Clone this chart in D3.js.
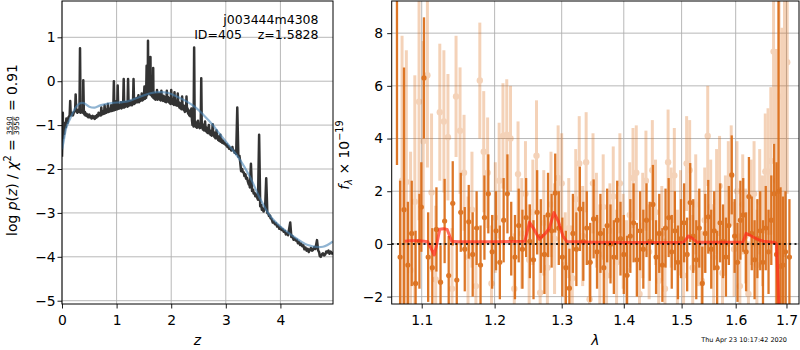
<!DOCTYPE html>
<html>
<head>
<meta charset="utf-8">
<script src="https://cdn.jsdelivr.net/npm/d3@7"></script>
<style>
  body { margin: 0; background: #fff; }
  svg { display: block; font-family: 'DejaVu Sans', sans-serif; }
</style>
</head>
<body>
<svg id="fig"></svg>
<script>
// ---- dados: painel esquerdo, log p(z) ----
const zTicks = [0, 1, 2, 3, 4];
const pzTicks = [-5, -4, -3, -2, -1, 0, 1];

// curva escura [z, log p]
const pzLine = [
  [0.00,-1.72],[0.01,-1.20],[0.015,-0.72],[0.02,-1.30],[0.03,-1.00],[0.04,-1.20],[0.05,-0.95],
  [0.07,-1.05],[0.08,-0.85],[0.10,-0.95],[0.12,-0.82],[0.14,-0.78],[0.15,-0.45],[0.16,-0.78],
  [0.18,-0.72],[0.20,-0.78],[0.22,-0.70],[0.24,-0.68],[0.25,-0.30],[0.26,-0.66],[0.28,-0.72],
  [0.30,-0.65],[0.32,-0.70],[0.33,0.75],[0.34,-0.72],[0.36,-0.68],[0.385,-0.72],[0.39,0.02],
  [0.40,-0.70],[0.41,-0.76],[0.42,-0.70],[0.43,-0.78],[0.45,-0.74],[0.46,-0.80],[0.47,-0.76],
  [0.48,-0.82],[0.50,-0.76],[0.51,-0.82],[0.53,-0.80],[0.54,-0.85],[0.56,-0.79],[0.57,-0.84],
  [0.58,-0.80],[0.60,-0.86],[0.61,-0.80],[0.63,-0.83],[0.64,-0.77],[0.66,-0.80],[0.67,-0.72],
  [0.68,-0.78],[0.70,-0.74],[0.71,-0.78],[0.72,-0.60],[0.73,-0.76],[0.74,-0.70],[0.75,-0.75],
  [0.76,-0.68],[0.77,-0.74],[0.78,-0.55],[0.79,-0.73],[0.80,-0.66],[0.81,-0.72],[0.82,-0.64],
  [0.83,-0.70],[0.84,-0.52],[0.85,-0.70],[0.86,-0.62],[0.87,-0.69],[0.88,-0.63],[0.89,-0.68],
  [0.90,-0.55],[0.91,-0.68],[0.92,-0.60],[0.93,-0.67],[0.94,-0.62],[0.95,0.00],[0.96,-0.66],
  [0.97,-0.58],[0.98,-0.65],[0.99,-0.58],[1.00,-0.45],[1.01,-0.64],[1.02,-0.10],[1.03,-0.63],
  [1.04,-0.55],[1.05,-0.62],[1.06,-0.54],[1.07,-0.61],[1.08,-0.48],[1.09,-0.62],[1.10,-0.54],
  [1.11,-0.60],[1.12,-0.52],[1.13,0.05],[1.14,-0.60],[1.15,-0.50],[1.16,-0.58],[1.17,-0.48],
  [1.18,-0.57],[1.19,-0.50],[1.20,-0.58],[1.21,0.05],[1.22,-0.56],[1.23,-0.47],[1.24,-0.55],
  [1.25,-0.45],[1.26,-0.54],[1.27,-0.46],[1.28,-0.55],[1.29,-0.44],[1.30,-0.52],[1.31,0.05],
  [1.32,-0.52],[1.33,-0.42],[1.34,-0.50],[1.35,-0.40],[1.36,-0.48],[1.37,-0.38],[1.38,-0.48],
  [1.39,-0.40],[1.40,-0.32],[1.41,-0.48],[1.42,-0.38],[1.43,-0.45],[1.44,-0.36],[1.45,-0.44],
  [1.46,-0.28],[1.47,-0.44],[1.48,-0.34],[1.49,-0.42],[1.50,-0.35],[1.51,-0.12],[1.52,-0.40],
  [1.53,-0.30],[1.54,-0.38],[1.55,0.35],[1.56,-0.32],[1.565,0.10],[1.57,-0.28],[1.575,0.92],
  [1.58,-0.20],[1.585,-0.05],[1.59,-0.28],[1.60,0.30],[1.605,-0.25],[1.61,0.00],[1.615,-0.30],
  [1.62,0.55],[1.625,-0.28],[1.63,-0.05],[1.635,-0.32],[1.645,0.10],[1.65,-0.35],[1.66,-0.15],
  [1.665,-0.35],[1.67,0.30],[1.675,-0.38],[1.68,-0.25],[1.69,-0.40],[1.70,-0.30],[1.71,-0.42],
  [1.72,-0.28],[1.73,-0.40],[1.74,-0.20],[1.75,-0.42],[1.76,-0.30],[1.77,-0.40],[1.78,-0.28],
  [1.79,-0.42],[1.80,-0.32],[1.81,-0.44],[1.82,-0.22],[1.83,-0.42],[1.84,-0.34],[1.85,-0.45],
  [1.86,-0.33],[1.87,-0.44],[1.88,-0.36],[1.89,-0.47],[1.90,-0.38],[1.91,-0.48],[1.92,-0.22],
  [1.93,-0.45],[1.94,-0.36],[1.95,-0.47],[1.96,-0.38],[1.97,-0.50],[1.98,-0.42],[1.99,-0.52],
  [2.00,-0.20],[2.01,-0.48],[2.02,-0.40],[2.03,-0.52],[2.04,-0.44],[2.05,-0.54],[2.06,-0.25],
  [2.07,-0.52],[2.08,-0.44],[2.09,-0.55],[2.10,-0.46],[2.11,-0.56],[2.12,-0.28],[2.13,-0.55],
  [2.14,-0.48],[2.15,-0.60],[2.16,-0.50],[2.17,-0.62],[2.18,-0.52],[2.19,-0.64],[2.20,-0.35],
  [2.21,-0.62],[2.22,-0.55],[2.23,-0.66],[2.24,-0.58],[2.25,-0.70],[2.26,-0.56],[2.27,-0.68],
  [2.28,-0.35],[2.29,-0.68],[2.30,-0.62],[2.31,-0.74],[2.32,-0.66],[2.33,-0.78],[2.34,-0.70],
  [2.35,-0.80],[2.36,-0.72],[2.37,-0.62],[2.38,-0.88],[2.39,-1.00],[2.40,-0.96],[2.41,-1.03],
  [2.42,0.77],[2.43,-1.00],[2.44,-0.92],[2.45,-1.04],[2.46,-0.96],[2.47,-1.06],[2.48,-0.98],
  [2.49,-0.90],[2.50,-1.04],[2.51,-0.97],[2.52,-1.07],[2.53,-0.99],[2.54,-1.06],[2.55,0.07],
  [2.56,-1.05],[2.57,-0.98],[2.58,-1.10],[2.59,-1.02],[2.60,-1.12],[2.61,-1.04],[2.62,-0.92],
  [2.63,-1.13],[2.64,-1.05],[2.65,-1.16],[2.66,-1.08],[2.67,-1.18],[2.68,-1.10],[2.69,-1.00],
  [2.70,-1.19],[2.71,-1.12],[2.72,-1.22],[2.73,-1.14],[2.74,-1.24],[2.75,-1.16],[2.76,-0.98],
  [2.77,-1.23],[2.78,-1.16],[2.79,-1.27],[2.80,-1.20],[2.81,-1.30],[2.82,-1.22],[2.83,-1.12],
  [2.84,-1.30],[2.85,-1.24],[2.86,-1.34],[2.87,-1.27],[2.88,-1.36],[2.89,-1.30],[2.90,-1.22],
  [2.91,-1.38],[2.92,-1.32],[2.93,-1.40],[2.95,-1.36],[2.96,-1.42],[2.98,-1.40],[3.00,-1.46],
  [3.02,-1.44],[3.03,-1.50],[3.05,-1.48],[3.06,-1.54],[3.08,-1.52],[3.10,-1.58],[3.12,-1.50],
  [3.13,-1.57],[3.15,-1.58],[3.16,-1.63],[3.18,-1.60],[3.19,-1.66],[3.21,-0.60],[3.23,-1.72],
  [3.25,-1.70],[3.26,-1.80],[3.28,-2.05],[3.30,-2.00],[3.31,-2.07],[3.33,-2.08],[3.34,-2.16],
  [3.36,-2.12],[3.37,-2.22],[3.39,-2.20],[3.40,-2.27],[3.42,-2.35],[3.43,-2.30],[3.44,-2.42],
  [3.46,-1.88],[3.48,-2.50],[3.50,-2.47],[3.51,-2.56],[3.53,-2.55],[3.54,-2.62],[3.56,-2.58],
  [3.57,-2.64],[3.59,-2.70],[3.61,-1.22],[3.63,-2.85],[3.65,-2.82],[3.66,-2.93],[3.68,-2.90],
  [3.69,-2.97],[3.71,-2.92],[3.72,-2.88],[3.74,-2.21],[3.76,-3.00],[3.78,-3.02],[3.79,-3.07],
  [3.81,-3.06],[3.82,-3.12],[3.84,-3.14],[3.86,-3.22],[3.88,-3.20],[3.90,-3.26],[3.92,-3.24],
  [3.94,-3.31],[3.96,-3.29],[3.98,-3.36],[4.00,-3.33],[4.02,-3.39],[4.04,-3.37],[4.06,-3.43],
  [4.08,-3.41],[4.10,-3.49],[4.12,-3.46],[4.14,-3.51],[4.18,-3.22],[4.20,-3.55],[4.22,-3.53],
  [4.24,-3.61],[4.26,-3.58],[4.28,-3.63],[4.30,-3.61],[4.32,-3.69],[4.34,-3.66],[4.36,-3.73],
  [4.38,-3.70],[4.40,-3.76],[4.42,-3.74],[4.44,-3.83],[4.46,-3.79],[4.48,-3.86],[4.50,-3.82],
  [4.52,-3.89],[4.54,-3.84],[4.56,-3.80],[4.58,-3.86],[4.60,-3.84],[4.62,-3.78],[4.64,-3.82],
  [4.67,-3.62],[4.69,-3.85],[4.71,-3.90],[4.72,-3.98],[4.74,-4.00],[4.76,-3.94],[4.78,-3.92],
  [4.80,-3.97],[4.82,-3.95],[4.84,-3.88],[4.86,-3.90],[4.88,-3.86],[4.90,-3.93],[4.92,-3.88],
  [4.94,-3.91],[4.96,-3.95]
];

// curva suave (azul) [z, log p]
const pzSmooth = [
  [0.00,-1.55],[0.025,-1.40],[0.08,-1.05],[0.15,-0.85],[0.25,-0.60],[0.33,-0.50],[0.40,-0.50],
  [0.50,-0.58],[0.60,-0.60],[0.70,-0.55],[0.90,-0.50],[1.20,-0.46],[1.40,-0.37],[1.60,-0.28],
  [1.80,-0.25],[1.95,-0.27],[2.10,-0.35],[2.28,-0.46],[2.45,-0.60],[2.60,-0.78],[2.75,-0.98],
  [2.90,-1.22],[3.05,-1.45],[3.26,-1.79],[3.45,-2.20],[3.61,-2.63],[3.80,-3.05],[4.00,-3.31],
  [4.20,-3.50],[4.50,-3.73],[4.78,-3.77],[4.96,-3.65]
];

// ---- dados: painel direito, espectro ----
const lamTicks = [1.1, 1.2, 1.3, 1.4, 1.5, 1.6, 1.7];
const fluxTicks = [-2, 0, 2, 4, 6, 8];

// espectro escuro [lambda, f, erro]
const specDark = [
  [1.068,10.5,7.5],[1.072,-0.5,2.9],[1.077,1.3,5.4],[1.082,-0.8,2.4],[1.087,0.4,2.0],[1.092,-1.5,2.0],
  [1.097,0.1,1.8],[1.0995,1.4,1.7],[1.1030,6.3,2.3],[1.1085,-0.5,1.7],[1.1140,-0.9,1.5],[1.1195,0.55,1.6],
  [1.1250,-1.45,1.4],[1.1305,0.87,1.6],[1.1360,-1.2,1.5],[1.1415,1.54,1.6],[1.1470,-1.37,1.4],[1.1525,1.2,1.5],
  [1.1580,-0.2,1.6],[1.1635,0.84,1.4],[1.1690,-0.4,1.6],[1.1745,0.6,1.4],[1.1800,-0.8,1.5],[1.1855,1.0,1.6],
  [1.1910,1.9,1.5],[1.1965,-0.3,1.4],[1.2020,0.5,1.5],[1.2075,-0.7,1.4],[1.2130,0.9,1.6],[1.2185,1.9,1.5],
  [1.2240,0.2,1.4],[1.2295,-0.5,1.6],[1.2350,0.7,1.4],[1.2405,-0.2,1.5],[1.2460,1.0,1.5],[1.2515,0.1,1.4],
  [1.2570,-0.6,1.5],[1.2625,1.2,1.6],[1.2680,0.3,1.4],[1.2735,-0.4,1.5],[1.2790,1.1,1.6],[1.2845,0.5,1.4],
  [1.2900,1.93,1.5],[1.2955,0.6,1.4],[1.3010,-0.5,1.5],[1.3065,-0.9,1.4],[1.3120,-1.68,1.5],[1.3175,0.4,1.5],
  [1.3230,-0.2,1.4],[1.3285,1.33,1.6],[1.3340,0.1,1.5],[1.3395,0.6,1.4],[1.3450,-0.7,1.5],[1.3505,0.95,1.5],
  [1.3560,-0.3,1.4],[1.3615,0.4,1.5],[1.3670,-0.9,1.5],[1.3725,0.7,1.4],[1.3780,0.0,1.5],[1.3835,-0.5,1.4],
  [1.3890,0.9,1.5],[1.3945,0.2,1.4],[1.4000,-0.4,1.5],[1.4055,-1.19,1.5],[1.4110,0.3,1.4],[1.4165,0.8,1.5],
  [1.4220,-0.6,1.4],[1.4275,0.5,1.5],[1.4330,-0.2,1.5],[1.4385,0.9,1.4],[1.4440,0.1,1.5],[1.4495,1.5,1.5],
  [1.4550,-0.5,1.4],[1.4605,0.4,1.5],[1.4660,-0.8,1.4],[1.4715,0.6,1.5],[1.4770,1.0,1.5],[1.4825,-0.3,1.4],
  [1.4880,0.5,1.5],[1.4935,-0.7,1.4],[1.4990,0.2,1.5],[1.5045,0.8,1.5],[1.5100,-0.4,1.4],[1.5155,1.57,1.5],
  [1.5210,0.3,1.4],[1.5265,-0.6,1.5],[1.5320,0.6,1.5],[1.5375,-1.5,1.4],[1.5430,0.4,1.5],[1.5485,1.03,1.4],
  [1.5540,-0.2,1.5],[1.5595,0.5,1.5],[1.5650,-0.9,1.4],[1.5705,0.8,1.5],[1.5760,0.1,1.4],[1.5815,-0.5,1.5],
  [1.5870,0.7,1.5],[1.5925,2.62,1.5],[1.5980,0.3,1.4],[1.6035,-0.7,1.5],[1.6090,0.9,1.5],[1.6145,1.1,1.4],
  [1.6200,-0.3,1.5],[1.6255,1.8,1.5],[1.6310,0.4,1.4],[1.6365,-0.6,1.5],[1.6420,0.2,1.5],[1.6475,0.5,1.5],
  [1.6530,-0.7,1.6],[1.6585,0.6,1.6],[1.6640,-0.3,1.6],[1.6695,0.9,1.7],[1.6750,1.9,1.9],[1.680,-0.4,3.5],
  [1.684,2.0,8.0],[1.688,-0.85,3.0],[1.693,-0.8,2.6],[1.698,-0.3,2.3],[1.706,-0.5,2.2]
];

// espectro claro [lambda, f, erro]
const specLight = [
  [1.0745,2.4,5.5],[1.0800,2.35,5.0],[1.0855,-1.0,4.5],[1.0910,1.6,4.8],[1.0965,5.4,4.5],[1.1020,3.9,3.8],
  [1.1075,6.4,3.5],[1.1130,1.95,3.0],[1.1185,-1.35,2.8],[1.1240,5.0,2.6],[1.1295,4.65,2.7],[1.1350,4.05,2.4],
  [1.1405,-1.7,2.3],[1.1460,5.6,2.3],[1.1515,4.3,2.4],[1.1570,2.7,2.2],[1.1625,-0.5,2.3],[1.1680,1.3,2.2],
  [1.1735,-1.6,2.1],[1.1790,6.2,2.2],[1.1845,3.5,2.3],[1.1900,2.7,2.1],[1.1955,-1.5,2.2],[1.2010,1.0,2.1],
  [1.2065,2.4,2.2],[1.2120,4.1,2.0],[1.2175,4.15,2.1],[1.2230,4.0,2.0],[1.2285,-1.7,2.1],[1.2340,2.65,2.0],
  [1.2395,0.4,2.1],[1.2450,1.9,2.0],[1.2505,-0.6,2.1],[1.2560,1.2,2.0],[1.2615,3.35,2.1],[1.2670,-1.85,2.0],
  [1.2725,0.8,2.0],[1.2780,-0.9,2.1],[1.2835,1.5,2.0],[1.2890,0.2,2.1],[1.2945,2.5,2.0],[1.3000,2.3,1.9],
  [1.3055,-0.8,2.0],[1.3110,0.6,1.9],[1.3165,-1.3,2.0],[1.3220,1.7,1.9],[1.3275,3.05,1.8],[1.3330,0.3,1.9],
  [1.3385,3.1,1.9],[1.3440,-2.1,2.0],[1.3495,2.3,1.9],[1.3550,0.9,1.8],[1.3605,-0.4,1.9],[1.3660,1.4,2.0],
  [1.3715,-1.2,1.9],[1.3770,0.5,1.8],[1.3825,1.8,1.9],[1.3880,-0.7,2.0],[1.3935,2.3,1.9],[1.3990,0.1,1.8],
  [1.4045,-1.0,1.9],[1.4100,1.1,2.0],[1.4155,2.5,1.9],[1.4210,2.7,1.8],[1.4265,-1.9,1.9],[1.4320,0.7,2.0],
  [1.4375,2.4,1.9],[1.4430,-0.3,1.8],[1.4485,2.8,1.9],[1.4540,1.2,2.0],[1.4595,-1.4,1.9],[1.4650,0.4,1.8],
  [1.4705,-1.7,1.9],[1.4760,3.1,2.0],[1.4815,1.0,1.9],[1.4870,2.6,1.8],[1.4925,-0.6,1.9],[1.4980,0.8,2.0],
  [1.5035,-1.2,1.9],[1.5090,3.05,1.8],[1.5145,2.8,1.9],[1.5200,-0.9,2.0],[1.5255,1.5,1.9],[1.5310,0.2,1.8],
  [1.5365,-1.4,1.9],[1.5420,0.9,2.0],[1.5475,4.1,1.9],[1.5530,1.4,1.8],[1.5585,-0.5,1.9],[1.5640,1.6,2.0],
  [1.5695,2.2,1.9],[1.5750,-1.1,1.8],[1.5805,0.7,1.9],[1.5860,1.9,2.0],[1.5915,2.6,1.9],[1.5970,-0.2,1.8],
  [1.6025,2.0,1.9],[1.6080,-1.6,2.0],[1.6135,1.5,1.9],[1.6190,0.3,1.8],[1.6245,-1.9,2.0],[1.6300,1.2,2.0],
  [1.6355,1.9,2.0],[1.6410,-0.8,2.1],[1.6465,1.6,2.0],[1.6520,0.5,2.1],[1.6575,2.75,2.2],[1.6630,2.75,2.4],
  [1.6685,3.15,2.8],[1.6740,7.3,3.5],[1.6795,2.4,5.0],[1.6850,5.6,6.0],[1.6905,2.2,6.0],[1.6960,4.5,5.0],
  [1.7015,6.9,5.0]
];

// modelo (linha vermelha) [lambda, f]
const specModel = [
  [1.078,0.10],[1.085,0.12],[1.095,0.12],[1.103,0.10],[1.108,0.08],[1.112,-0.15],[1.1166,-0.42],
  [1.120,0.00],[1.124,0.56],[1.129,0.58],[1.134,0.55],[1.140,0.10],[1.150,0.08],[1.200,0.08],
  [1.244,0.10],[1.251,0.82],[1.258,0.55],[1.266,0.18],[1.275,0.40],[1.281,0.60],[1.288,1.19],
  [1.295,0.85],[1.302,0.30],[1.308,0.09],[1.350,0.06],[1.400,0.05],[1.450,0.05],[1.504,0.06],
  [1.512,0.30],[1.520,0.20],[1.528,0.06],[1.580,0.06],[1.614,0.06],[1.620,0.40],[1.630,0.30],
  [1.645,0.15],[1.654,0.10],[1.677,0.05],[1.680,0.00],[1.682,-1.00],[1.685,-2.60]
];

const header1 = 'j003444m4308';
const header2 = 'ID=405    z=1.5828';
const stamp = 'Thu Apr 23 10:17:42 2020';

// ---- figura ----
const W = 800, H = 350;
const fs = 13.9;
const cOrange = 'rgb(219,108,22)';
const grid = '#b0b0b0';

const svg = d3.select('#fig').attr('width', W).attr('height', H);
svg.append('rect').attr('width', W).attr('height', H).attr('fill', '#fff');

const boxL = { left: 62, right: 333, top: 1, bottom: 304 };
const boxR = { left: 391.7, right: 799, top: 1, bottom: 304 };

const xz = d3.scaleLinear().domain([0, 4.963]).range([boxL.left, boxL.right]);
const yp = d3.scaleLinear().domain([-5.075, 1.827]).range([boxL.bottom, boxL.top]);
const xl = d3.scaleLog().domain([1.0613, 1.7256]).range([boxR.left, boxR.right]);
const yf = d3.scaleLinear().domain([-2.28, 9.22]).range([boxR.bottom, boxR.top]);

// clip
const defs = svg.append('defs');
[['clipL', boxL], ['clipR', boxR]].forEach(([id, b]) => {
  defs.append('clipPath').attr('id', id).append('rect')
    .attr('x', b.left).attr('y', b.top)
    .attr('width', b.right - b.left).attr('height', b.bottom - b.top);
});

function drawGrid(b, xs, ys, xt, yt) {
  const g = svg.append('g').attr('stroke', grid).attr('stroke-width', 0.9);
  g.selectAll('.gx').data(xt).enter().append('line')
    .attr('x1', d => xs(d)).attr('x2', d => xs(d)).attr('y1', b.top).attr('y2', b.bottom);
  g.selectAll('.gy').data(yt).enter().append('line')
    .attr('y1', d => ys(d)).attr('y2', d => ys(d)).attr('x1', b.left).attr('x2', b.right);
}

function drawAxes(b, xs, ys, xt, yt, xfmt, yfmt, ypad) {
  const gx = svg.append('g').attr('transform', `translate(0,${b.bottom})`)
    .call(d3.axisBottom(xs).tickValues(xt).tickFormat(xfmt).tickSize(4.5).tickPadding(6.6));
  const gy = svg.append('g').attr('transform', `translate(${b.left},0)`)
    .call(d3.axisLeft(ys).tickValues(yt).tickFormat(yfmt).tickSize(4.5).tickPadding(ypad));
  [gx, gy].forEach(g => {
    g.select('.domain').remove();
    g.attr('font-size', fs).attr('font-family', 'DejaVu Sans');
    g.selectAll('line').attr('stroke', '#000').attr('stroke-width', 0.9);
    g.selectAll('text').attr('fill', '#000');
  });
  svg.append('rect').attr('x', b.left).attr('y', b.top)
    .attr('width', b.right - b.left).attr('height', b.bottom - b.top)
    .attr('fill', 'none').attr('stroke', '#000').attr('stroke-width', 1);
}

// rotulos com "mathtext"
function mathLabel(parent, parts, size) {
  const g = parent.append('g');
  let x = 0;
  for (const p of parts) {
    if (p.frac) {
      const s = size * 0.52;
      const ax = -size * 0.3;
      const num = g.append('text').attr('font-size', s).text(p.frac[0]);
      const den = g.append('text').attr('font-size', s).text(p.frac[1]);
      const w = Math.max(num.node().getComputedTextLength(), den.node().getComputedTextLength());
      num.attr('x', x + w / 2).attr('text-anchor', 'middle').attr('y', ax - 1.2);
      den.attr('x', x + w / 2).attr('text-anchor', 'middle').attr('y', ax + 1.2 + s * 0.73);
      g.append('line').attr('x1', x).attr('x2', x + w).attr('y1', ax).attr('y2', ax)
        .attr('stroke', '#000').attr('stroke-width', 0.6);
      x += w + 1;
    } else {
      const s = (p.sup || p.sub) ? size * 0.7 : size;
      const dy = p.sup ? -size * 0.42 : (p.sub ? size * 0.22 : 0);
      const t = g.append('text').attr('x', x).attr('y', dy).attr('font-size', s)
        .attr('font-style', p.it ? 'italic' : null)
        .style('white-space', 'pre').text(p.t);
      x += t.node().getComputedTextLength();
    }
  }
  g.attr('transform', `translate(${-x / 2},0)`);
  return g;
}

// ===== painel esquerdo =====
drawGrid(boxL, xz, yp, zTicks, pzTicks);

const gL = svg.append('g').attr('clip-path', 'url(#clipL)');
const lineL = d3.line().x(d => xz(d[0])).y(d => yp(d[1]));
gL.append('path').datum(pzLine).attr('d', lineL)
  .attr('fill', 'none').attr('stroke', '#333').attr('stroke-width', 2.5)
  .attr('stroke-linejoin', 'round');
gL.append('path').datum(pzSmooth).attr('d', lineL.curve(d3.curveCatmullRom))
  .attr('fill', 'none').attr('stroke', 'steelblue').attr('stroke-opacity', 0.6)
  .attr('stroke-width', 2.2);

drawAxes(boxL, xz, yp, zTicks, pzTicks, d3.format('d'), d3.format('d'), 1.8);

svg.append('text').attr('x', 318.5).attr('y', 24).attr('text-anchor', 'end')
  .attr('font-size', 12.5).text(header1);
svg.append('text').attr('x', 318.5).attr('y', 39).attr('text-anchor', 'end')
  .attr('font-size', 12.5).style('white-space', 'pre').text(header2);

svg.append('text').attr('x', (boxL.left + boxL.right) / 2).attr('y', 345)
  .attr('text-anchor', 'middle').attr('font-size', fs).attr('font-style', 'italic').text('z');

const labL = svg.append('g').attr('transform', 'translate(17,150) rotate(-90)');
mathLabel(labL, [
  { t: 'log ' }, { t: 'p', it: true }, { t: '(' }, { t: 'z', it: true }, { t: ') / ' },
  { t: 'χ', it: true }, { t: '2', sup: true }, { t: ' = ' }, { frac: ['3590', '3956'] },
  { t: ' = 0.91' }
], fs);

// ===== painel direito =====
drawGrid(boxR, xl, yf, lamTicks, fluxTicks);

const gR = svg.append('g').attr('clip-path', 'url(#clipR)');

function errSeries(data, opacity, width, r) {
  const g = gR.append('g').attr('opacity', opacity);
  g.selectAll('line').data(data).enter().append('line')
    .attr('x1', d => xl(d[0])).attr('x2', d => xl(d[0]))
    .attr('y1', d => yf(d[1] - d[2])).attr('y2', d => yf(d[1] + d[2]))
    .attr('stroke', cOrange).attr('stroke-width', width);
  g.selectAll('circle').data(data).enter().append('circle')
    .attr('cx', d => xl(d[0])).attr('cy', d => yf(d[1])).attr('r', r)
    .attr('fill', cOrange);
}

errSeries(specLight, 0.3, 3, 3.2);
errSeries(specDark, 0.92, 2.3, 2.6);

gR.append('path').datum(specModel)
  .attr('d', d3.line().x(d => xl(d[0])).y(d => yf(d[1])))
  .attr('fill', 'none').attr('stroke', '#ff2a1a').attr('stroke-opacity', 0.7)
  .attr('stroke-width', 3).attr('stroke-linejoin', 'round');

gR.append('line').attr('x1', boxR.left).attr('x2', boxR.right)
  .attr('y1', yf(0)).attr('y2', yf(0))
  .attr('stroke', '#000').attr('stroke-width', 2).attr('stroke-dasharray', '2,3.3')
  .attr('opacity', 0.85);

drawAxes(boxR, xl, yf, lamTicks, fluxTicks, d3.format('.1f'), d3.format('d'), 4);

svg.append('text').attr('x', (boxR.left + boxR.right) / 2).attr('y', 345)
  .attr('text-anchor', 'middle').attr('font-size', fs).attr('font-style', 'italic').text('λ');

const labR = svg.append('g').attr('transform', 'translate(349,155) rotate(-90)');
mathLabel(labR, [
  { t: 'f', it: true }, { t: 'λ', it: true, sub: true }, { t: ' × 10' }, { t: '−19', sup: true }
], fs);

svg.append('text').attr('x', 787).attr('y', 342).attr('text-anchor', 'end')
  .attr('font-size', 6.5).text(stamp);
</script>
</body>
</html>
